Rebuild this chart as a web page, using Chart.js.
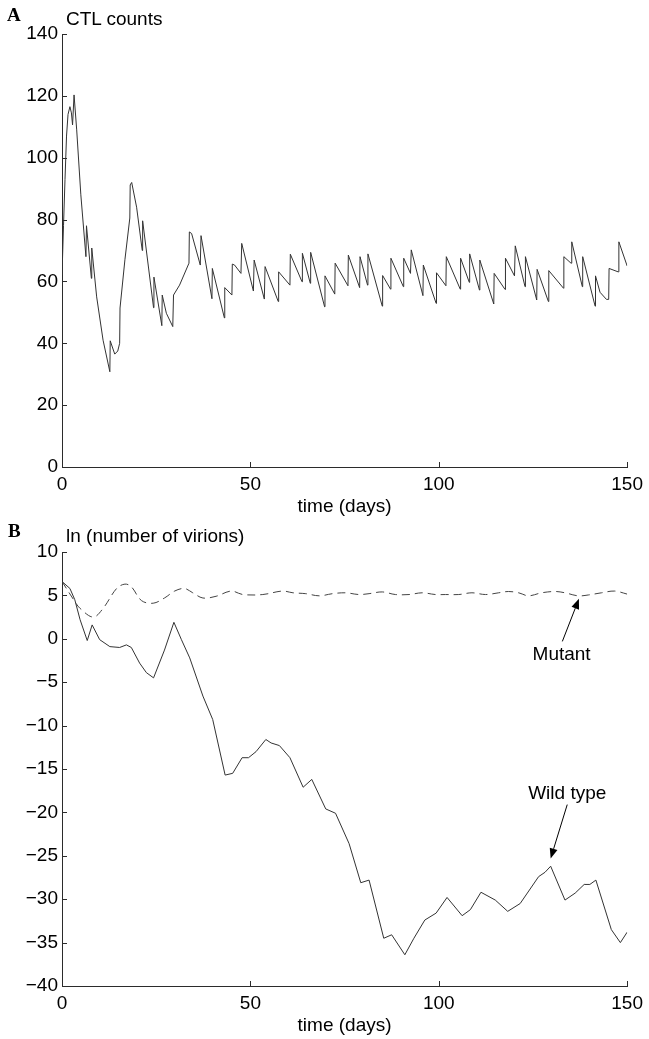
<!DOCTYPE html>
<html>
<head>
<meta charset="utf-8">
<script src="https://cdn.jsdelivr.net/npm/chart.js@4/dist/chart.umd.min.js"></script>
<style>
    body { margin: 0; background: #fff; width: 649px; height: 1039px; position: relative; overflow: hidden; font-family: "Liberation Sans", Arial, sans-serif; }
    .wrap { position: absolute; left: 0; width: 649px; }
    #wrapA { top: 0; height: 520px; }
    #wrapB { top: 520px; height: 519px; }
    .lbl { position: absolute; font-size: 19px; line-height: 19px; color: #000; white-space: nowrap; }
    .panel { font-family: "Liberation Serif", "Times New Roman", serif; font-weight: bold; }
</style>
</head>
<body>
<div class="wrap" id="wrapA"><canvas id="chartA" width="649" height="520"></canvas></div>
<div class="wrap" id="wrapB"><canvas id="chartB" width="649" height="519"></canvas></div>
<div class="lbl panel" style="left:7px; top:5px;">A</div>
<div class="lbl" style="left:66px; top:9px;">CTL counts</div>
<div class="lbl panel" style="left:8px; top:521px;">B</div>
<div class="lbl" style="left:66px; top:526px;">ln (number of virions)</div>

<script>
// panel A: CTL counts over time
const ctlDays = [0, 0.4, 0.8, 1.2, 1.6, 2.1, 2.5, 2.8, 3.2, 3.9, 5.0, 6.35, 6.5, 7.8, 7.9, 9.2, 10.9, 12.7, 12.8, 14.0, 14.8, 15.3, 15.4, 16.7, 18.0, 18.1, 18.5, 19.8, 21.3, 21.4, 24.3, 24.4, 26.5, 26.6, 27.7, 29.4, 29.6, 31.2, 33.7, 33.8, 34.4, 36.7, 36.9, 39.8, 39.9, 43.1, 43.2, 45.1, 45.2, 45.8, 47.5, 47.7, 50.8, 51.0, 53.7, 53.9, 57.4, 57.5, 60.5, 60.6, 63.7, 63.8, 65.9, 66.0, 69.7, 69.8, 72.4, 72.5, 75.9, 76.0, 79.0, 79.1, 81.1, 81.2, 85.0, 85.1, 87.2, 87.3, 90.6, 90.7, 92.5, 92.7, 95.8, 95.9, 99.3, 99.4, 101.9, 102.0, 105.7, 105.8, 108.1, 108.2, 110.8, 110.9, 114.6, 114.7, 117.6, 117.7, 120.1, 120.3, 122.9, 123.0, 126.0, 126.1, 129.1, 129.2, 133.1, 133.2, 135.1, 135.3, 138.1, 138.2, 141.5, 141.6, 142.8, 144.5, 145.1, 145.2, 147.6, 147.8, 150];
const ctlValues = [62, 78, 93, 107, 114, 116.5, 114.5, 110.6, 120.3, 109, 88, 68, 78, 61, 70.8, 55, 41, 30.8, 40.8, 36.5, 37.5, 40, 51.4, 67, 80.5, 91.2, 92, 84, 70, 79.6, 51.5, 61.4, 45.7, 55.6, 49.7, 45.4, 55.6, 58.8, 65.9, 76, 75.5, 65.3, 74.8, 54.4, 64.2, 48.2, 58, 55.6, 65.6, 65.3, 62.6, 72.3, 56.9, 66.9, 54.3, 64.8, 53.5, 63.1, 58.8, 68.8, 59.9, 69.1, 59.4, 69.4, 51.8, 61.8, 55.9, 65.9, 58.6, 68.5, 58, 68, 58.8, 68.9, 52, 61.9, 57.5, 67.5, 58.3, 67.5, 62.6, 70.2, 55.4, 65.3, 52.9, 62.8, 58.6, 68, 57.5, 67.5, 59.7, 68.9, 57.2, 66.9, 52.7, 62.6, 57.4, 67.5, 61.8, 71.5, 58.3, 68, 54, 63.9, 53.5, 63.5, 57.8, 68, 65.9, 72.8, 58.3, 68, 52, 61.8, 56.5, 54.2, 54.2, 64.2, 63.1, 72.8, 65];

// panel B: ln(number of virions), wild type and mutant
const wildDays = [0, 2.1, 3.4, 4.8, 6.7, 8.0, 10.0, 12.7, 15.3, 17.1, 18.4, 20.6, 22.4, 24.3, 27.2, 29.7, 31.7, 33.9, 37.4, 40.0, 43.3, 45.3, 47.8, 49.5, 51.5, 54.1, 55.5, 57.7, 60.5, 64.0, 66.3, 70.0, 72.6, 76.2, 79.3, 81.5, 85.4, 87.5, 91.0, 93.4, 96.3, 99.3, 102.2, 106.2, 108.4, 111.2, 115.0, 118.3, 121.6, 126.5, 128.2, 129.7, 133.5, 136.2, 138.6, 140.1, 141.7, 145.8, 148.2, 150];
const wildValues = [6.6, 5.8, 4.5, 2.2, -0.2, 1.6, -0.1, -0.9, -1.0, -0.7, -1.0, -2.8, -3.9, -4.5, -1.3, 1.9, -0.1, -2.2, -6.6, -9.3, -15.7, -15.5, -13.7, -13.7, -13.0, -11.6, -12.0, -12.3, -13.7, -17.1, -16.2, -19.6, -20.1, -23.6, -28.1, -27.8, -34.5, -34.1, -36.4, -34.5, -32.4, -31.6, -29.8, -31.9, -31.2, -29.2, -30.1, -31.4, -30.5, -27.4, -26.9, -26.2, -30.1, -29.3, -28.3, -28.3, -27.8, -33.5, -35.0, -33.8];
const mutantDays = [0, 3.4, 4.8, 8.3, 10.9, 14.5, 16.7, 18.4, 21.1, 24.2, 27.2, 29.9, 32.5, 34.7, 37.4, 40.9, 44.9, 48, 53.3, 58.5, 61.3, 64.7, 68.3, 71.8, 75.3, 78.8, 81.5, 85, 88.5, 92.1, 95.6, 99.1, 101.8, 105.3, 108.8, 112.4, 115.9, 118.5, 121.2, 123.8, 127.3, 130.9, 133.5, 137, 139.7, 143.2, 146.7, 150];
const mutantValues = [6.6, 4.3, 3.5, 2.5, 3.5, 5.8, 6.3, 6.0, 4.4, 4.1, 4.7, 5.5, 5.8, 5.3, 4.7, 4.9, 5.5, 5.1, 5.1, 5.5, 5.3, 5.2, 4.95, 5.2, 5.3, 5.1, 5.2, 5.4, 5.1, 5.1, 5.3, 5.1, 5.1, 5.1, 5.3, 5.1, 5.3, 5.45, 5.3, 4.95, 5.3, 5.45, 5.3, 4.95, 5.05, 5.3, 5.5, 5.15];

// tick labels
const dayTicks = [0, 50, 100, 150];
const ctlTicks = [0, 20, 40, 60, 80, 100, 120, 140];
const virionTicks = [-40, -35, -30, -25, -20, -15, -10, -5, 0, 5, 10];

// arrow labels in panel B (data coords)
const arrowNotes = [
    { text: 'Mutant', at: [132.6, -2.4], from: [132.8, -0.3], to: [137.2, 4.6] },
    { text: 'Wild type', at: [134.1, -18.5], from: [134.1, -19.1], to: [129.7, -25.3] }
];

const INK = '#2b2b2b';
const FONT = { family: '"Liberation Sans", Arial, sans-serif', size: 19 };

function toPoints(xs, ys) {
    return xs.map((x, i) => ({ x: x, y: ys[i] }));
}

function fmt(v) {
    return String(v).replace('-', '\u2212');
}

// matlab style ticks pointing into the plot
const inwardTicks = {
    id: 'inwardTicks',
    afterDraw(chart) {
        const ctx = chart.ctx;
        const { x, y } = chart.scales;
        const area = chart.chartArea;
        ctx.save();
        ctx.strokeStyle = INK;
        ctx.lineWidth = 1;
        ctx.beginPath();
        x.ticks.forEach(t => {
            const px = Math.round(x.getPixelForValue(t.value)) + 0.5;
            ctx.moveTo(px, area.bottom);
            ctx.lineTo(px, area.bottom - 5);
        });
        y.ticks.forEach(t => {
            const py = Math.round(y.getPixelForValue(t.value)) + 0.5;
            ctx.moveTo(area.left, py);
            ctx.lineTo(area.left + 5, py);
        });
        ctx.stroke();
        ctx.restore();
    }
};

const arrowLabels = {
    id: 'arrowLabels',
    afterDatasetsDraw(chart, args, opts) {
        if (!opts.notes) return;
        const ctx = chart.ctx;
        const { x, y } = chart.scales;
        ctx.save();
        ctx.fillStyle = '#000';
        ctx.strokeStyle = '#000';
        ctx.lineWidth = 1;
        ctx.font = FONT.size + 'px ' + FONT.family;
        ctx.textAlign = 'center';
        ctx.textBaseline = 'alphabetic';
        opts.notes.forEach(n => {
            ctx.fillText(n.text, x.getPixelForValue(n.at[0]), y.getPixelForValue(n.at[1]));
            const x0 = x.getPixelForValue(n.from[0]), y0 = y.getPixelForValue(n.from[1]);
            const x1 = x.getPixelForValue(n.to[0]), y1 = y.getPixelForValue(n.to[1]);
            const ang = Math.atan2(y1 - y0, x1 - x0);
            const len = 10, half = 4;
            const bx = x1 - len * Math.cos(ang), by = y1 - len * Math.sin(ang);
            ctx.beginPath();
            ctx.moveTo(x0, y0);
            ctx.lineTo(bx, by);
            ctx.stroke();
            ctx.beginPath();
            ctx.moveTo(x1, y1);
            ctx.lineTo(bx + half * Math.sin(ang), by - half * Math.cos(ang));
            ctx.lineTo(bx - half * Math.sin(ang), by + half * Math.cos(ang));
            ctx.closePath();
            ctx.fill();
        });
        ctx.restore();
    }
};

function makeScales(yTicks, yMin, yMax) {
    return {
        x: {
            type: 'linear',
            min: 0,
            max: 150,
            afterBuildTicks: s => { s.ticks = dayTicks.map(v => ({ value: v })); },
            afterFit: s => { s.height = 53; },
            grid: { display: false, drawTicks: false },
            border: { display: true, color: INK, width: 1 },
            ticks: { color: '#000', font: FONT, padding: 6, maxRotation: 0, callback: v => fmt(v) },
            title: { display: true, text: 'time (days)', color: '#000', font: FONT, padding: { top: 0, bottom: 2 } }
        },
        y: {
            type: 'linear',
            min: yMin,
            max: yMax,
            afterBuildTicks: s => { s.ticks = yTicks.map(v => ({ value: v })); },
            afterFit: s => { s.width = 62; },
            grid: { display: false, drawTicks: false },
            border: { display: true, color: INK, width: 1 },
            ticks: { color: '#000', font: FONT, padding: 4, callback: v => fmt(v) }
        }
    };
}

const baseOptions = {
    responsive: false,
    animation: false,
    events: [],
    plugins: { legend: { display: false }, tooltip: { enabled: false } }
};

new Chart(document.getElementById('chartA'), {
    type: 'line',
    data: {
        datasets: [{
            label: 'CTL counts',
            data: toPoints(ctlDays, ctlValues),
            borderColor: '#333',
            borderWidth: 1,
            pointRadius: 0,
            tension: 0,
            fill: false
        }]
    },
    options: Object.assign({}, baseOptions, {
        layout: { padding: { left: 0, top: 34, right: 19, bottom: 0 } },
        scales: makeScales(ctlTicks, 0, 140)
    }),
    plugins: [inwardTicks]
});

new Chart(document.getElementById('chartB'), {
    type: 'line',
    data: {
        datasets: [{
            label: 'Wild type',
            data: toPoints(wildDays, wildValues),
            borderColor: '#333',
            borderWidth: 1,
            pointRadius: 0,
            tension: 0,
            fill: false
        }, {
            label: 'Mutant',
            data: toPoints(mutantDays, mutantValues),
            borderColor: '#444',
            borderWidth: 1,
            borderDash: [8, 5],
            pointRadius: 0,
            tension: 0.35,
            fill: false
        }]
    },
    options: Object.assign({}, baseOptions, {
        layout: { padding: { left: 0, top: 32, right: 19, bottom: 0 } },
        scales: makeScales(virionTicks, -40, 10),
        plugins: {
            legend: { display: false },
            tooltip: { enabled: false },
            arrowLabels: { notes: arrowNotes }
        }
    }),
    plugins: [inwardTicks, arrowLabels]
});
</script>
</body>
</html>
